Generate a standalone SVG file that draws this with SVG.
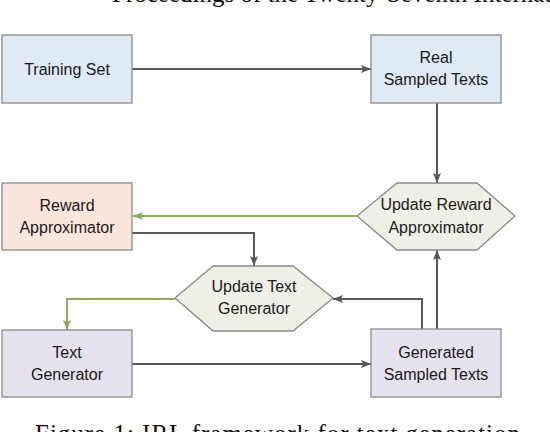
<svg xmlns="http://www.w3.org/2000/svg" width="550" height="432" viewBox="0 0 550 432">
  <style>
    .box { stroke: #8a8a8a; stroke-width: 1.3; }
    .blue { fill: #DFEAF4; }
    .orange { fill: #FBE6DB; }
    .purple { fill: #E5E2EE; }
    .hex { fill: #EEF0E6; stroke: #8a8a8a; stroke-width: 1.3; }
    .lbl { font-family: "Liberation Sans", Arial, sans-serif; font-size: 16px; fill: #1a1a1a; text-anchor: middle; }
    .serif { font-family: "Liberation Serif", "Times New Roman", serif; font-size: 25px; fill: #111; }
    .dark { fill: none; stroke: #595959; stroke-width: 2; }
    .green { fill: none; stroke: #8FAA58; stroke-width: 2; }
  </style>
  <defs>
    <marker id="ad" viewBox="0 0 10 8" refX="10" refY="4" markerWidth="10" markerHeight="8" markerUnits="userSpaceOnUse" orient="auto">
      <path d="M0,0 L10,4 L0,8 L2,4 z" fill="#595959"/>
    </marker>
    <marker id="ag" viewBox="0 0 10 8" refX="10" refY="4" markerWidth="10" markerHeight="8" markerUnits="userSpaceOnUse" orient="auto">
      <path d="M0,0 L10,4 L0,8 L2,4 z" fill="#8FAA58"/>
    </marker>
  </defs>
  <rect width="550" height="432" fill="#ffffff"/>

  <text class="serif" x="112" y="2">Proceedings of the Twenty-Seventh Internat</text>

  <g id="connectors">
    <path class="dark" d="M132,69 H371" marker-end="url(#ad)"/>
    <path class="dark" d="M437,103 V183" marker-end="url(#ad)"/>
    <path class="green" d="M357,216 H133" marker-end="url(#ag)"/>
    <path class="dark" d="M132,233 H254 V266" marker-end="url(#ad)"/>
    <path class="green" d="M175,299 H67 V330" marker-end="url(#ag)"/>
    <path class="dark" d="M132,364 H371" marker-end="url(#ad)"/>
    <path class="dark" d="M422,329 V299 H333" marker-end="url(#ad)"/>
    <path class="dark" d="M437,329 V250" marker-end="url(#ad)"/>
  </g>

  <g id="training-set">
    <rect class="box blue" x="2" y="35" width="130" height="68"/>
    <text class="lbl" x="67" y="75">Training Set</text>
  </g>
  <g id="real-sampled-texts">
    <rect class="box blue" x="371" y="35" width="130" height="68"/>
    <text class="lbl" x="436" y="63">Real</text>
    <text class="lbl" x="436" y="85">Sampled Texts</text>
  </g>
  <g id="update-reward-approximator">
    <polygon class="hex" points="357,216 397,183 477,183 515,216 477,250 397,250"/>
    <text class="lbl" x="436" y="210">Update Reward</text>
    <text class="lbl" x="436" y="233">Approximator</text>
  </g>
  <g id="reward-approximator">
    <rect class="box orange" x="2" y="183" width="130" height="67"/>
    <text class="lbl" x="67" y="211">Reward</text>
    <text class="lbl" x="67" y="233">Approximator</text>
  </g>
  <g id="update-text-generator">
    <polygon class="hex" points="175,298 213,266 293,266 333,298 293,331 213,331"/>
    <text class="lbl" x="254" y="292">Update Text</text>
    <text class="lbl" x="254" y="314">Generator</text>
  </g>
  <g id="text-generator">
    <rect class="box purple" x="2" y="330" width="130" height="67"/>
    <text class="lbl" x="67" y="358">Text</text>
    <text class="lbl" x="67" y="380">Generator</text>
  </g>
  <g id="generated-sampled-texts">
    <rect class="box purple" x="371" y="329" width="130" height="68"/>
    <text class="lbl" x="436" y="358">Generated</text>
    <text class="lbl" x="436" y="380">Sampled Texts</text>
  </g>

  <text class="serif" x="35" y="442" textLength="485" lengthAdjust="spacing">Figure 1: IRL framework for text generation</text>
</svg>
